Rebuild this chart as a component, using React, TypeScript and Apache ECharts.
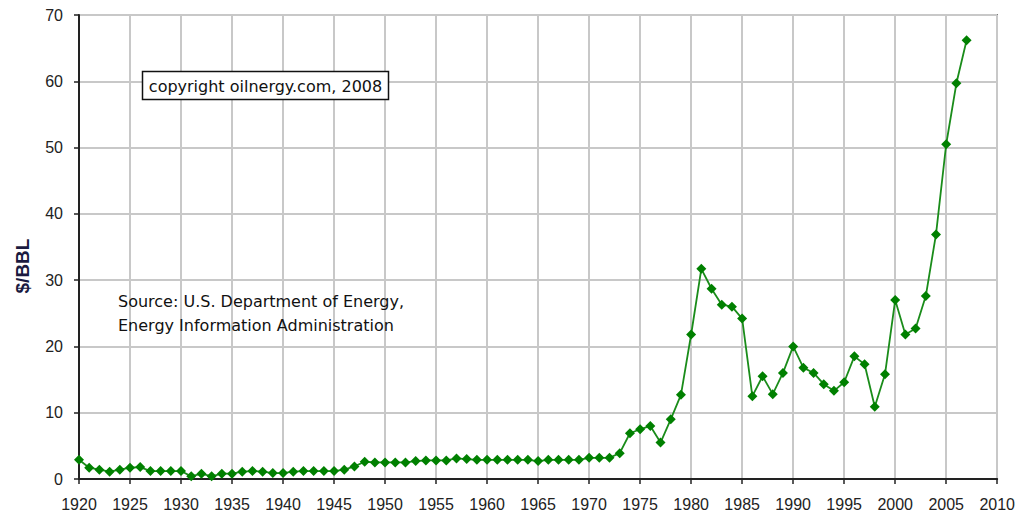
import React, { useEffect, useRef } from "react";
import * as echarts from "echarts";

const years: number[] = [];
for (let y = 1920; y <= 2007; y++) years.push(y);

const prices: number[] = [
  // 1920-1929
  2.9, 1.7, 1.4, 1.1, 1.4, 1.7, 1.8, 1.2, 1.2, 1.2,
  // 1930-1939
  1.2, 0.4, 0.8, 0.4, 0.8, 0.8, 1.1, 1.2, 1.1, 0.9,
  // 1940-1949
  0.9, 1.1, 1.2, 1.2, 1.2, 1.2, 1.4, 1.9, 2.6, 2.5,
  // 1950-1959
  2.5, 2.5, 2.5, 2.7, 2.8, 2.8, 2.8, 3.1, 3.0, 2.9,
  // 1960-1969
  2.9, 2.9, 2.9, 2.9, 2.9, 2.7, 2.9, 2.9, 2.9, 2.9,
  // 1970-1979
  3.2, 3.2, 3.2, 3.9, 6.9, 7.5, 8.0, 5.5, 9.0, 12.7,
  // 1980-1989
  21.8, 31.7, 28.7, 26.3, 26.0, 24.2, 12.5, 15.5, 12.8, 16.0,
  // 1990-1999
  20.0, 16.8, 16.0, 14.3, 13.3, 14.6, 18.5, 17.3, 10.9, 15.8,
  // 2000-2007
  27.0, 21.8, 22.7, 27.6, 36.9, 50.5, 59.7, 66.2,
];

const xTicks = { min: 1920, max: 2010, step: 5 };
const yTicks = { min: 0, max: 70, step: 10 };

const yTitle = "$/BBL";
const copyrightText = "copyright oilnergy.com, 2008";
const sourceLines = ["Source: U.S. Department of Energy,", "Energy Information Administration"];

export default function App() {
  const ref = useRef<HTMLDivElement>(null);
  useEffect(() => {
    if (!ref.current) return;
    const chart = echarts.init(ref.current, undefined, { renderer: "svg" });
    const font = "Arial, 'Liberation Sans', sans-serif";
    const textFont = "'DejaVu Sans', Verdana, sans-serif";
    const data = years.map((y, i) => [y, prices[i]]);
    chart.setOption({
      animation: false,
      backgroundColor: "#ffffff",
      grid: { left: 79, right: 18, top: 15, bottom: 38, containLabel: false, show: true, borderColor: "#333", borderWidth: 1.5 },
      xAxis: {
        type: "value",
        min: xTicks.min,
        max: xTicks.max,
        interval: xTicks.step,
        axisLine: { show: true, onZero: false, lineStyle: { color: "#222", width: 2 } },
        axisTick: { show: true, length: 5, lineStyle: { color: "#222", width: 1.5 } },
        axisLabel: { color: "#222", fontSize: 16, fontFamily: font, margin: 17, formatter: (v: number) => String(v) },
        splitLine: { show: true, lineStyle: { color: "#c8c8c8", width: 2 } },
      },
      yAxis: {
        type: "value",
        min: yTicks.min,
        max: yTicks.max,
        interval: yTicks.step,
        axisLine: { show: true, lineStyle: { color: "#222", width: 2 } },
        axisTick: { show: true, length: 5, lineStyle: { color: "#222", width: 1.5 } },
        axisLabel: { color: "#222", fontSize: 16, fontFamily: font, margin: 16 },
        splitLine: { show: true, lineStyle: { color: "#c8c8c8", width: 2 } },
      },
      series: [
        {
          type: "line",
          data,
          symbol: "diamond",
          symbolSize: 10,
          itemStyle: { color: "#008000" },
          lineStyle: { color: "#1a8c1a", width: 1.8 },
          z: 5,
        },
      ],
      graphic: [
        {
          type: "text",
          x: 22,
          y: 266,
          rotation: Math.PI / 2,
          style: { text: yTitle, fill: "#1a1a40", font: `bold 19px ${font}`, align: "center", verticalAlign: "middle" },
          z: 11,
        },
        {
          type: "rect",
          shape: { x: 142.5, y: 71.5, width: 246, height: 28 },
          style: { fill: "#ffffff", stroke: "#111", lineWidth: 1.5 },
          z: 10,
        },
        {
          type: "text",
          x: 265.5,
          y: 86,
          style: { text: copyrightText, fill: "#111", font: `16px ${textFont}`, align: "center", verticalAlign: "middle" },
          z: 11,
        },
        {
          type: "text",
          x: 118,
          y: 301,
          style: { text: sourceLines[0], fill: "#111", font: `16px ${textFont}`, align: "left", verticalAlign: "middle" },
          z: 11,
        },
        {
          type: "text",
          x: 118,
          y: 325,
          style: { text: sourceLines[1], fill: "#111", font: `16px ${textFont}`, align: "left", verticalAlign: "middle" },
          z: 11,
        },
      ],
    });
    return () => chart.dispose();
  }, []);
  return <div ref={ref} style={{ position: "fixed", left: 0, top: 0, width: 1018, height: 517 }} />;
}
